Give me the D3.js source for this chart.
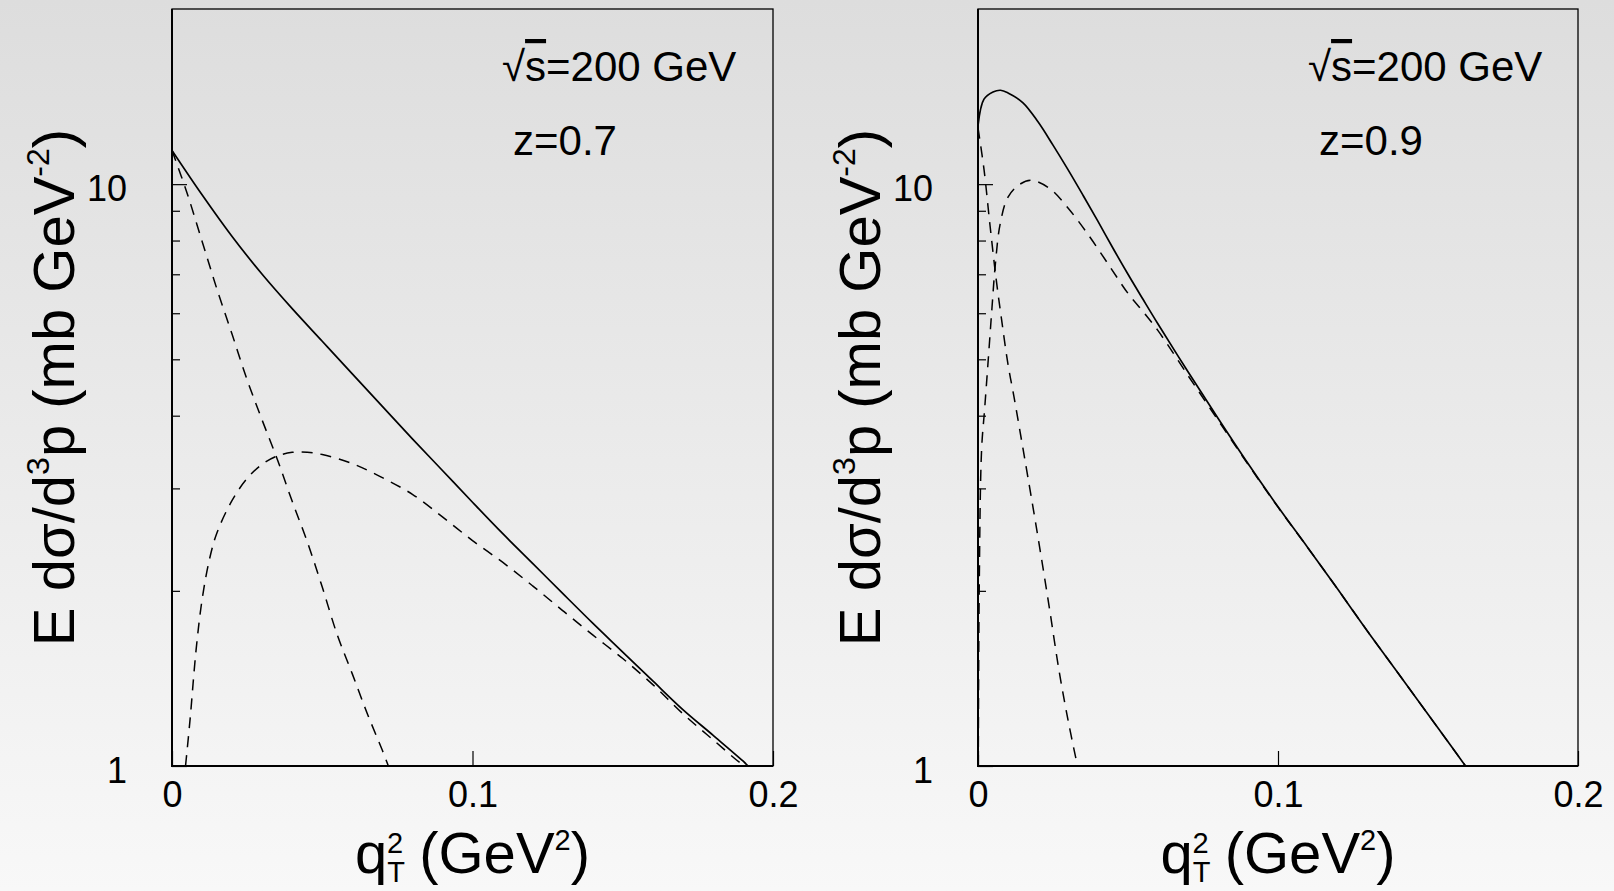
<!DOCTYPE html>
<html>
<head>
<meta charset="utf-8">
<script src="https://cdn.jsdelivr.net/npm/d3@7"></script>
<style>
  html, body { margin: 0; padding: 0; background: #eaeaea; }
  svg { display: block; }
  text { font-family: "Liberation Sans", Arial, Helvetica, sans-serif; fill: #000; }
</style>
</head>
<body>
<div id="chart"></div>
<script>
(function () {
  // labels and ticks
  const energyText = "=200 GeV";
  const zLabels = ["z=0.7", "z=0.9"];
  const xTickValues = [0, 0.1, 0.2];
  const yMajorTicks = [1, 10];
  const yMinorTicks = [2, 3, 4, 5, 6, 7, 8, 9];

  // z = 0.7 : full curve (solid)
  const q2TotalA = [0, 0.01, 0.02, 0.03, 0.04, 0.05, 0.06, 0.07, 0.08, 0.09, 0.10,
    0.11, 0.12, 0.13, 0.14, 0.15, 0.16, 0.17, 0.18, 0.19, 0.1917];
  const totalA = [11.43, 9.59, 8.13, 7.00, 6.11, 5.37, 4.72, 4.15, 3.65, 3.22, 2.84,
    2.51, 2.23, 1.98, 1.76, 1.57, 1.40, 1.25, 1.13, 1.02, 1.0];
  // z = 0.7 : falling component (dashed)
  const q2FallA = [0, 0.005, 0.01, 0.015, 0.02, 0.025, 0.03, 0.035, 0.04, 0.045,
    0.05, 0.055, 0.06, 0.065, 0.07, 0.072];
  const fallA = [11.43, 9.66, 7.98, 6.59, 5.52, 4.61, 3.93, 3.37, 2.85, 2.43,
    2.03, 1.68, 1.44, 1.23, 1.064, 1.0];
  // z = 0.7 : rising component (dashed)
  const q2RiseA = [0.0045, 0.006, 0.008, 0.01, 0.0125, 0.015, 0.02, 0.025, 0.03, 0.035,
    0.04, 0.045, 0.05, 0.06, 0.07, 0.08, 0.09, 0.10, 0.11, 0.12, 0.13, 0.14, 0.15,
    0.16, 0.17, 0.18, 0.19, 0.1912];
  const riseA = [1.0, 1.2, 1.58, 1.93, 2.27, 2.52, 2.86, 3.12, 3.30, 3.41,
    3.46, 3.46, 3.43, 3.31, 3.13, 2.93, 2.68, 2.44, 2.24, 2.04, 1.85, 1.68, 1.53,
    1.38, 1.23, 1.11, 1.005, 1.0];

  // z = 0.9 : full curve (solid)
  const q2TotalB = [0, 0.002, 0.005, 0.0075, 0.01, 0.015, 0.02, 0.025, 0.03, 0.035,
    0.04, 0.045, 0.05, 0.055, 0.06, 0.07, 0.08, 0.09, 0.10, 0.11, 0.12, 0.13, 0.14,
    0.15, 0.16, 0.1625];
  const totalB = [12.6, 14.0, 14.4, 14.5, 14.35, 13.8, 12.8, 11.67, 10.59, 9.57,
    8.63, 7.76, 7.00, 6.34, 5.75, 4.76, 3.96, 3.31, 2.79, 2.37, 2.01, 1.70, 1.445,
    1.227, 1.042, 1.0];
  // z = 0.9 : falling component (dashed)
  const q2FallB = [0, 0.002, 0.004, 0.006, 0.008, 0.01, 0.012, 0.015, 0.018, 0.021,
    0.024, 0.027, 0.03, 0.033, 0.0332];
  const fallB = [12.5, 10.6, 8.5, 6.9, 5.78, 4.90, 4.31, 3.51, 2.85, 2.30,
    1.84, 1.46, 1.20, 1.01, 1.0];
  // z = 0.9 : rising component (dashed)
  const q2RiseB = [0.0001, 0.0004, 0.0012, 0.0022, 0.0034, 0.0046, 0.0058, 0.0074,
    0.01, 0.014, 0.018, 0.024, 0.03, 0.037, 0.044, 0.05, 0.055, 0.06, 0.07, 0.08,
    0.09, 0.10, 0.11, 0.12, 0.13, 0.14, 0.15, 0.16, 0.1625];
  const riseB = [1.0, 2.0, 3.5, 4.1, 4.98, 6.07, 7.3, 8.55,
    9.5, 10.0, 10.15, 9.82, 9.1, 8.15, 7.21, 6.49, 6.04, 5.60, 4.69, 3.93,
    3.30, 2.785, 2.37, 2.01, 1.70, 1.445, 1.227, 1.042, 1.0];

  const width = 1614, height = 891;
  const top = 9, bottom = 766;

  const panels = [
    { x0: 172, x1: 773, z: zLabels[0],
      total: d3.zip(q2TotalA, totalA), parts: [d3.zip(q2FallA, fallA), d3.zip(q2RiseA, riseA)] },
    { x0: 978, x1: 1578, z: zLabels[1],
      total: d3.zip(q2TotalB, totalB), parts: [d3.zip(q2FallB, fallB), d3.zip(q2RiseB, riseB)] }
  ];

  const svg = d3.select("#chart").append("svg")
    .attr("width", width).attr("height", height);

  const defs = svg.append("defs");
  const grad = defs.append("linearGradient").attr("id", "bg")
    .attr("x1", 0).attr("y1", 0).attr("x2", 0).attr("y2", 1);
  grad.append("stop").attr("offset", "0%").attr("stop-color", "#dddddd");
  grad.append("stop").attr("offset", "100%").attr("stop-color", "#f8f8f8");

  svg.append("rect").attr("width", width).attr("height", height).attr("fill", "url(#bg)");

  const y = d3.scaleLog().domain([1, 20]).range([bottom, top]);

  panels.forEach((p, i) => {
    const x = d3.scaleLinear().domain([0, 0.2]).range([p.x0, p.x1]);
    const g = svg.append("g");

    defs.append("clipPath").attr("id", "clip" + i)
      .append("rect").attr("x", p.x0).attr("y", top)
      .attr("width", p.x1 - p.x0).attr("height", bottom - top);

    // frame
    g.append("rect")
      .attr("x", p.x0).attr("y", top)
      .attr("width", p.x1 - p.x0).attr("height", bottom - top)
      .attr("fill", "none").attr("stroke", "#000").attr("stroke-width", 1.3);

    const line = d3.line()
      .x((d) => x(d[0]))
      .y((d) => y(d[1]))
      .curve(d3.curveCatmullRom.alpha(0.5));

    const curves = g.append("g").attr("clip-path", `url(#clip${i})`);
    p.parts.forEach((part) => {
      curves.append("path")
        .attr("d", line(part))
        .attr("fill", "none")
        .attr("stroke", "#000")
        .attr("stroke-width", 1.5)
        .attr("stroke-dasharray", "11 8");
    });
    curves.append("path")
      .attr("d", line(p.total))
      .attr("fill", "none")
      .attr("stroke", "#000")
      .attr("stroke-width", 1.7);

    // axes
    const xAxis = g.append("g")
      .attr("transform", `translate(0,${bottom})`)
      .call(d3.axisBottom(x).tickValues(xTickValues).tickSize(-15).tickPadding(15)
        .tickFormat((d) => (d === 0 ? "0" : d3.format(".1f")(d))));
    xAxis.select(".domain").remove();
    xAxis.selectAll("text").style("font-size", "36px");

    const yAxis = g.append("g")
      .attr("transform", `translate(${p.x0},0)`)
      .call(d3.axisLeft(y).tickValues(yMajorTicks).tickSize(-15).tickPadding(45)
        .tickFormat(d3.format("d")));
    yAxis.select(".domain").remove();
    yAxis.selectAll("text").style("font-size", "36px").attr("dy", "0.45em");

    const yMinor = g.append("g")
      .attr("transform", `translate(${p.x0},0)`)
      .call(d3.axisLeft(y).tickValues(yMinorTicks).tickSize(-8).tickFormat(""));
    yMinor.select(".domain").remove();

    g.selectAll(".tick line").attr("stroke", "#000").attr("stroke-width", 1.2);

    // thicker left / bottom axis lines
    g.append("line").attr("x1", p.x0).attr("x2", p.x0).attr("y1", top).attr("y2", bottom + 1)
      .attr("stroke", "#000").attr("stroke-width", 2);
    g.append("line").attr("x1", p.x0).attr("x2", p.x1).attr("y1", bottom).attr("y2", bottom)
      .attr("stroke", "#000").attr("stroke-width", 2);

    // annotations
    const ann = g.append("text")
      .attr("x", p.x0 + 330).attr("y", 81)
      .style("font-size", "42px");
    ann.append("tspan").text("\u221A");
    ann.append("tspan").text("s").style("text-decoration", "overline");
    ann.append("tspan").text(energyText);

    g.append("text")
      .attr("x", p.x0 + 341).attr("y", 155)
      .style("font-size", "42px")
      .text(p.z);

    // x title
    const xt = g.append("text").attr("x", 0).attr("y", 873).style("font-size", "58px");
    xt.append("tspan").text("q");
    xt.append("tspan").text("T").style("font-size", "29px").attr("dy", 9);
    xt.append("tspan").text("2").style("font-size", "29px").attr("dx", -18).attr("dy", -29);
    xt.append("tspan").text(" (GeV").attr("dy", 20);
    xt.append("tspan").text("2").style("font-size", "29px").attr("dy", -23);
    xt.append("tspan").text(")").attr("dy", 23);
    const bb = xt.node().getBBox();
    xt.attr("x", (p.x0 + p.x1) / 2 - bb.width / 2 - bb.x);

    // y title
    const yt = g.append("text")
      .attr("transform", `translate(${p.x0 - 98},${(top + bottom) / 2}) rotate(-90)`)
      .attr("text-anchor", "middle")
      .style("font-size", "58px");
    yt.append("tspan").text("E d\u03C3/d");
    yt.append("tspan").text("3").style("font-size", "32px").attr("dy", -25);
    yt.append("tspan").text("p (mb GeV").attr("dy", 25);
    yt.append("tspan").text("-2").style("font-size", "32px").attr("dy", -25);
    yt.append("tspan").text(")").attr("dy", 25);
  });
})();
</script>
</body>
</html>
